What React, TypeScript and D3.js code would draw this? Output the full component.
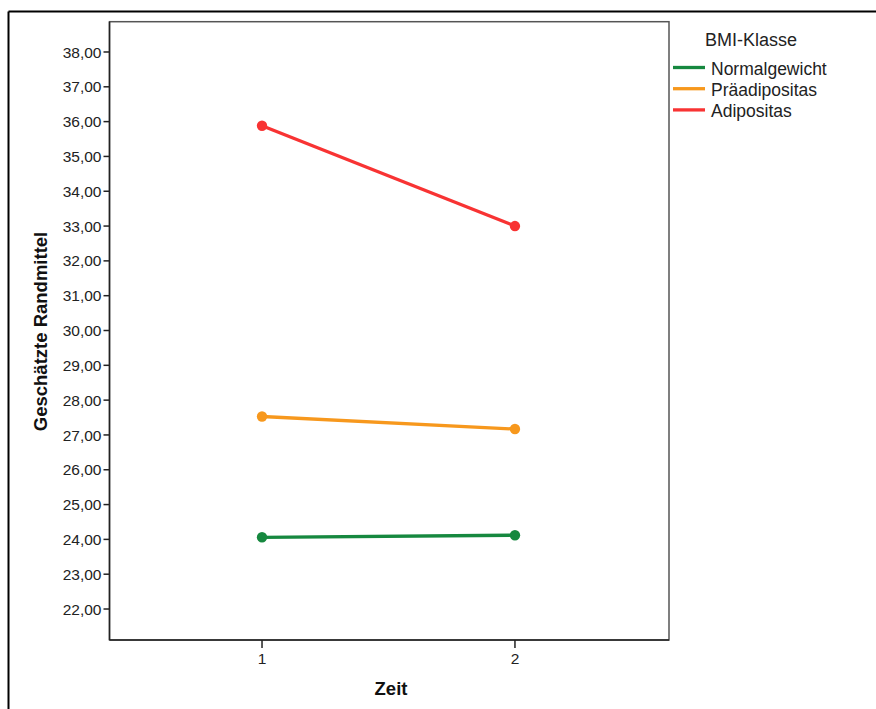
import React from "react";
import * as d3 from "d3";

const timePoints = [1, 2];
const seriesNames = ["Normalgewicht", "Präadipositas", "Adipositas"];
const normalValues = [24.06, 24.12];
const praeValues = [27.53, 27.17];
const adiValues = [35.88, 33.0];
const seriesColors = ["#16883f", "#f7981d", "#f83333"];
const yTicks = [22, 23, 24, 25, 26, 27, 28, 29, 30, 31, 32, 33, 34, 35, 36, 37, 38];

const W = 876;
const H = 709;
const plotL = 109.5;
const plotR = 669;
const plotT = 21.7;
const plotB = 640;

export default function App() {
  const x = d3.scaleLinear().domain([0.397, 2.609]).range([plotL, plotR]);
  const y = d3.scaleLinear().domain([21.11, 38.87]).range([plotB, plotT]);
  const fmt = (v: number) => d3.format(".2f")(v).replace(".", ",");
  const allSeries = [normalValues, praeValues, adiValues];
  const line = d3
    .line<number>()
    .x((_, i) => x(timePoints[i]))
    .y((d) => y(d));
  const font = "'Liberation Sans', Arial, sans-serif";

  return (
    <svg
      width={W}
      height={H}
      style={{ position: "absolute", left: 0, top: 0, background: "#fff" }}
      fontFamily={font}
    >
      <rect x={0} y={0} width={W} height={H} fill="#fff" />
      {/* outer frame */}
      <line x1={8.5} y1={11.5} x2={W} y2={11.5} stroke="#000" strokeWidth={2} />
      <line x1={8.5} y1={11.5} x2={8.5} y2={H} stroke="#000" strokeWidth={2} />

      {/* plot frame */}
      <rect
        x={plotL}
        y={plotT}
        width={plotR - plotL}
        height={plotB - plotT}
        fill="none"
        stroke="#555"
        strokeWidth={1.5}
      />
      <line x1={plotL} y1={plotT} x2={plotL} y2={plotB} stroke="#222" strokeWidth={1.5} />
      <line x1={plotL} y1={plotB} x2={plotR} y2={plotB} stroke="#222" strokeWidth={1.5} />

      {/* y ticks */}
      {yTicks.map((t) => (
        <g key={t}>
          <line x1={plotL - 6} x2={plotL} y1={y(t)} y2={y(t)} stroke="#222" strokeWidth={1.5} />
          <text
            x={plotL - 8}
            y={y(t)}
            dy="0.36em"
            textAnchor="end"
            fontSize={15.5}
            fill="#222"
          >
            {fmt(t)}
          </text>
        </g>
      ))}

      {/* x ticks */}
      {timePoints.map((t) => (
        <g key={t}>
          <line x1={x(t)} x2={x(t)} y1={plotB} y2={plotB + 8} stroke="#222" strokeWidth={1.5} />
          <text x={x(t)} y={plotB + 24} textAnchor="middle" fontSize={15.5} fill="#222">
            {t}
          </text>
        </g>
      ))}

      {/* axis titles */}
      <text x={391} y={695} textAnchor="middle" fontSize={18.5} fontWeight="bold" fill="#111">
        Zeit
      </text>
      <text
        transform={`translate(47,${(230 + 433) / 2}) rotate(-90)`}
        textAnchor="middle"
        fontSize={18.5}
        fontWeight="bold"
        fill="#111"
      >
        Geschätzte Randmittel
      </text>

      {/* series */}
      {allSeries.map((vals, si) => (
        <g key={si}>
          <path d={line(vals) || ""} fill="none" stroke={seriesColors[si]} strokeWidth={3.3} />
          {vals.map((v, i) => (
            <circle key={i} cx={x(timePoints[i])} cy={y(v)} r={5.2} fill={seriesColors[si]} />
          ))}
        </g>
      ))}

      {/* legend */}
      <text x={705} y={46} fontSize={18} fill="#222">
        BMI-Klasse
      </text>
      {seriesNames.map((n, i) => {
        const ly = 67.5 + i * 21.2;
        return (
          <g key={n}>
            <line x1={673} x2={705} y1={ly} y2={ly} stroke={seriesColors[i]} strokeWidth={3.3} />
            <text x={711} y={ly + 7.5} fontSize={17.5} fill="#222">
              {n}
            </text>
          </g>
        );
      })}
    </svg>
  );
}
